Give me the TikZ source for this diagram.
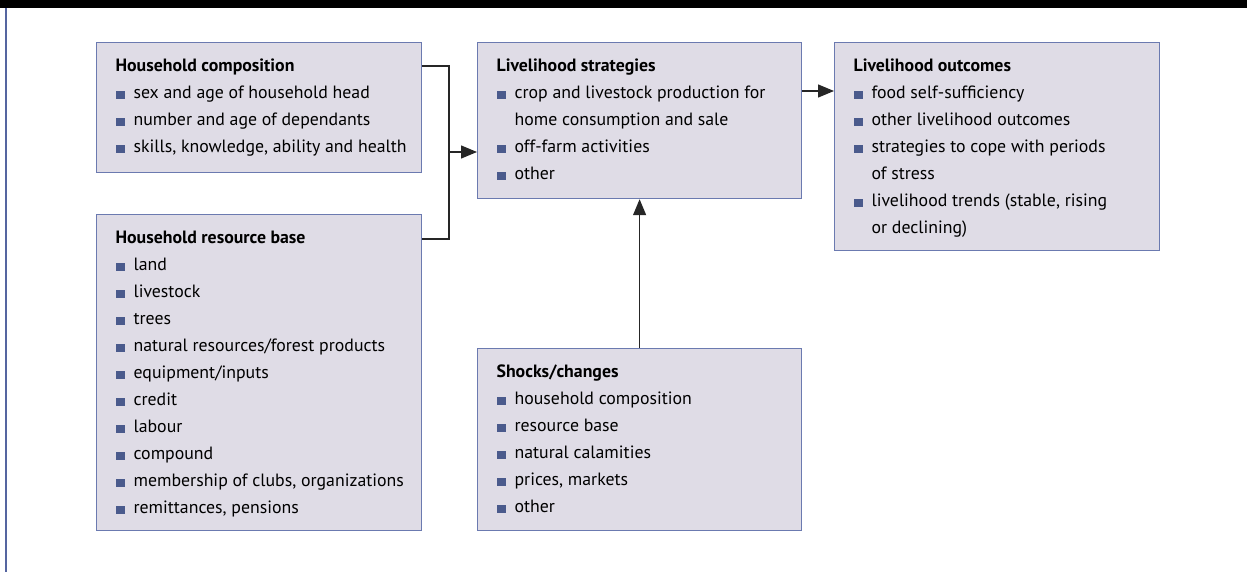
\documentclass[tikz,border=0pt]{standalone}
\usepackage{fontspec}
\setmainfont{PT Sans}
\usetikzlibrary{arrows.meta}

\definecolor{boxfill}{HTML}{DFDCE6}
\definecolor{boxline}{HTML}{6B7AB0}
\definecolor{bulletblue}{HTML}{4A5A8C}
\definecolor{frameline}{HTML}{5565A0}

\newcommand{\sq}{\textcolor{bulletblue}{\rule{9pt}{8pt}}\hspace{9pt}}
\newcommand{\itm}[1]{\par\hangindent=18pt\hangafter=1\noindent\sq#1}
\newcommand{\head}[1]{\noindent\rule{0pt}{29pt}\textbf{#1}}
\newcommand{\panel}[3]{\parbox[t][#2][t]{#1}{\fontsize{17.8pt}{27pt}\selectfont
  \raggedright\leftskip=19pt\rightskip=6pt plus 2em #3}}

\begin{document}
\begin{tikzpicture}[x=1pt,y=-1pt,
  box/.style={draw=boxline, fill=boxfill, line width=1.2pt, anchor=north west,
    inner sep=0pt},
  wire/.style={line width=1.3pt, draw=black!85},
  arrow/.style={wire, -{Triangle[length=16pt,width=13pt]}}]

  \useasboundingbox (0,0) rectangle (1247,572);
  \fill[black] (0,0) rectangle (1247,8);
  \draw[frameline, line width=2.2pt] (6,8) -- (6,572);

  \node[box] (comp) at (96,42) {\panel{325pt}{130pt}{%
    \head{Household composition}
    \itm{sex and age of household head}
    \itm{number and age of dependants}
    \itm{skills, knowledge, ability and health}}};

  \node[box] (base) at (96,214) {\panel{325pt}{316pt}{%
    \head{Household resource base}
    \itm{land}
    \itm{livestock}
    \itm{trees}
    \itm{natural resources/forest products}
    \itm{equipment/inputs}
    \itm{credit}
    \itm{labour}
    \itm{compound}
    \itm{membership of clubs, organizations}
    \itm{remittances, pensions}}};

  \node[box] (strat) at (477,42) {\panel{324pt}{156pt}{%
    \head{Livelihood strategies}
    \itm{crop and livestock\ production for\newline home consumption and sale}
    \itm{off-farm activities}
    \itm{other}}};

  \node[box] (outc) at (834,42) {\panel{325pt}{208pt}{%
    \head{Livelihood outcomes}
    \itm{food self-sufficiency}
    \itm{other livelihood outcomes}
    \itm{strategies to cope with periods\newline of stress}
    \itm{livelihood trends (stable, rising\newline or declining)}}};

  \node[box] (shock) at (477,348) {\panel{324pt}{182pt}{%
    \head{Shocks/changes}
    \itm{household composition}
    \itm{resource base}
    \itm{natural calamities}
    \itm{prices, markets}
    \itm{other}}};

  % joining the two household boxes
  \coordinate (jtop) at (449,66);
  \coordinate (jmid) at (449,152);
  \coordinate (jbot) at (449,239);
  \draw[wire] ([yshift=-24pt]comp.north east) -- (jtop) -- (jbot)
    -- ([yshift=-25pt]base.north east);
  \draw[arrow] (jmid) -- (strat.west |- jmid);

  \coordinate (sout) at ([yshift=-49pt]strat.north east);
  \draw[arrow] (sout) -- (outc.west |- sout);
  \draw[arrow] (shock.north) -- (strat.south);

\end{tikzpicture}
\end{document}
